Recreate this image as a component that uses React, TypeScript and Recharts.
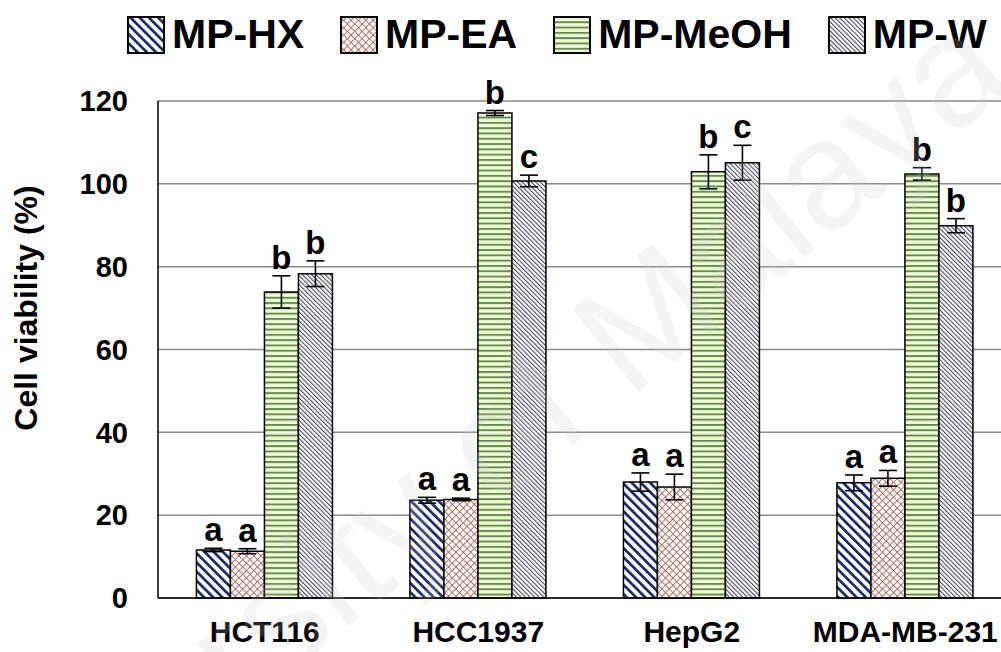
import React from 'react';
import { BarChart, Bar, XAxis, YAxis, CartesianGrid, ErrorBar, LabelList, Legend } from 'recharts';

// Cell lines on the x axis
const cellLines = ['HCT116', 'HCC1937', 'HepG2', 'MDA-MB-231'];

// Cell viability (%) per extract, with SD and significance letters
const hxValues = [11.6, 23.6, 28.0, 27.8];
const hxErrors = [0.4, 0.7, 2.2, 1.9];
const hxLetters = ['a', 'a', 'a', 'a'];

const eaValues = [11.3, 23.8, 26.8, 28.9];
const eaErrors = [0.6, 0.3, 3.1, 1.9];
const eaLetters = ['a', 'a', 'a', 'a'];

const meohValues = [73.9, 117.1, 102.9, 102.4];
const meohErrors = [3.9, 0.6, 4.1, 1.5];
const meohLetters = ['b', 'b', 'b', 'b'];

const wValues = [78.3, 100.7, 105.1, 89.9];
const wErrors = [3.1, 1.4, 4.2, 1.7];
const wLetters = ['b', 'c', 'c', 'b'];

const yTicks = [0, 20, 40, 60, 80, 100, 120];

const FONT = '"Liberation Sans", Arial, Helvetica, sans-serif';

const series = [
  { key: 'hx', name: 'MP-HX', values: hxValues, errors: hxErrors, letters: hxLetters, fill: 'url(#pat-hx)' },
  { key: 'ea', name: 'MP-EA', values: eaValues, errors: eaErrors, letters: eaLetters, fill: 'url(#pat-ea)' },
  { key: 'meoh', name: 'MP-MeOH', values: meohValues, errors: meohErrors, letters: meohLetters, fill: 'url(#pat-meoh)' },
  { key: 'w', name: 'MP-W', values: wValues, errors: wErrors, letters: wLetters, fill: 'url(#pat-w)' },
];

const rows = cellLines.map((cat, i) => {
  const row: Record<string, string | number> = { cat };
  series.forEach((s) => {
    row[s.key] = s.values[i];
    row[s.key + 'Err'] = s.errors[i];
  });
  return row;
});

// Significance letter drawn just above the error bar cap
const makeSigLabel = (errors: number[], letters: string[]) => (props: any) => {
  const vb = props.viewBox ?? {};
  const x = Number(props.x ?? vb.x);
  const y = Number(props.y ?? vb.y);
  const w = Number(props.width ?? vb.width);
  const h = Number(props.height ?? vb.height);
  const v = Number(props.value);
  const i = Number(props.index);
  const pxPerUnit = v ? h / v : 0;
  const top = y - errors[i] * pxPerUnit;
  return (
    <text
      x={x + w / 2}
      y={top - 7}
      textAnchor="middle"
      fontSize={33}
      fontWeight="bold"
      fontFamily={FONT}
      fill="#000"
    >
      {letters[i]}
    </text>
  );
};

// Legend drawn in series order with patterned swatches
const renderLegend = () => (
  <div style={{ display: 'flex', alignItems: 'center', fontFamily: FONT }}>
    {series.map((s, idx) => (
      <div
        key={s.key}
        style={{ display: 'flex', alignItems: 'center', marginRight: idx < series.length - 1 ? 36 : 0 }}
      >
        <svg width={38} height={38} style={{ display: 'block' }}>
          <rect x={1} y={1} width={36} height={36} fill={s.fill} stroke="#000" strokeWidth={2} />
        </svg>
        <span
          style={{
            marginLeft: 7,
            fontSize: 41,
            fontWeight: 'bold',
            color: '#000',
            lineHeight: 1,
            whiteSpace: 'nowrap',
          }}
        >
          {s.name}
        </span>
      </div>
    ))}
  </div>
);

export default function App() {
  return (
    <div
      style={{
        position: 'absolute',
        left: 0,
        top: 0,
        width: 1001,
        height: 652,
        overflow: 'hidden',
        background: '#fff',
      }}
    >
      {/* Fill patterns shared by bars and legend swatches */}
      <svg width={0} height={0} style={{ position: 'absolute' }}>
        <defs>
          <pattern id="pat-hx" patternUnits="userSpaceOnUse" width={6.5} height={6.5} patternTransform="rotate(-45)">
            <rect width={6.5} height={6.5} fill="#ffffff" />
            <rect x={0} y={0} width={2.7} height={6.5} fill="#1b2a66" />
          </pattern>
          <pattern id="pat-ea" patternUnits="userSpaceOnUse" width={5.2} height={5.2} patternTransform="rotate(45)">
            <rect width={5.2} height={5.2} fill="#fffbfb" />
            <path d="M0 0.5 H5.2 M0.5 0 V5.2" stroke="#a8645d" strokeWidth={0.9} />
          </pattern>
          <pattern id="pat-meoh" patternUnits="userSpaceOnUse" width={10} height={5.3}>
            <rect width={10} height={5.3} fill="#f3f8dc" />
            <rect x={0} y={0} width={10} height={1.9} fill="#5f8f43" />
          </pattern>
          <pattern id="pat-w" patternUnits="userSpaceOnUse" width={3.2} height={3.2} patternTransform="rotate(-45)">
            <rect width={3.2} height={3.2} fill="#ffffff" />
            <rect x={0} y={0} width={1.1} height={3.2} fill="#4a4868" />
          </pattern>
        </defs>
      </svg>

      <BarChart
        width={1020}
        height={652}
        data={rows}
        margin={{ top: 101, right: 8, bottom: 0, left: 0 }}
        barCategoryGap="18%"
        barGap={0}
      >
        <CartesianGrid vertical={false} stroke="#8a8a8a" strokeWidth={1.5} />
        <XAxis
          dataKey="cat"
          height={54}
          interval={0}
          tickLine={false}
          tickSize={0}
          tickMargin={23}
          axisLine={{ stroke: '#000', strokeWidth: 1.5 }}
          tick={{ fontSize: 30, fontWeight: 'bold', fill: '#000', fontFamily: FONT }}
        />
        <YAxis
          width={158}
          domain={[0, 120]}
          ticks={yTicks}
          interval={0}
          tickLine={false}
          tickSize={0}
          tickMargin={30}
          axisLine={{ stroke: '#000', strokeWidth: 1.5 }}
          tick={{ fontSize: 29, fontWeight: 'bold', fill: '#000', fontFamily: FONT }}
        />
        <Legend
          layout="horizontal"
          verticalAlign="middle"
          align="center"
          wrapperStyle={{ top: 14, left: 127, width: 'auto', height: 'auto' }}
          content={renderLegend}
        />
        {series.map((s) => (
          <Bar
            key={s.key}
            dataKey={s.key}
            name={s.name}
            fill={s.fill}
            stroke="#000"
            strokeWidth={1.5}
            isAnimationActive={false}
          >
            <ErrorBar dataKey={s.key + 'Err'} width={9} stroke="#000" strokeWidth={1.6} />
            <LabelList dataKey={s.key} content={makeSigLabel(s.errors, s.letters)} />
          </Bar>
        ))}
      </BarChart>

      {/* Axis title and faint watermark */}
      <svg
        width={1001}
        height={652}
        style={{ position: 'absolute', left: 0, top: 0, pointerEvents: 'none' }}
      >
        <text
          x={37}
          y={308}
          transform="rotate(-90 37 308)"
          textAnchor="middle"
          fontSize={32}
          fontWeight="bold"
          fontFamily={FONT}
          fill="#000"
        >
          Cell viability (%)
        </text>
        <text
          x={1017}
          y={85}
          transform="rotate(-39 1017 85)"
          textAnchor="end"
          fontSize={155}
          fontFamily={FONT}
          fill="#c8c8c8"
          fillOpacity={0.2}
        >
          University of Malaya
        </text>
      </svg>
    </div>
  );
}
